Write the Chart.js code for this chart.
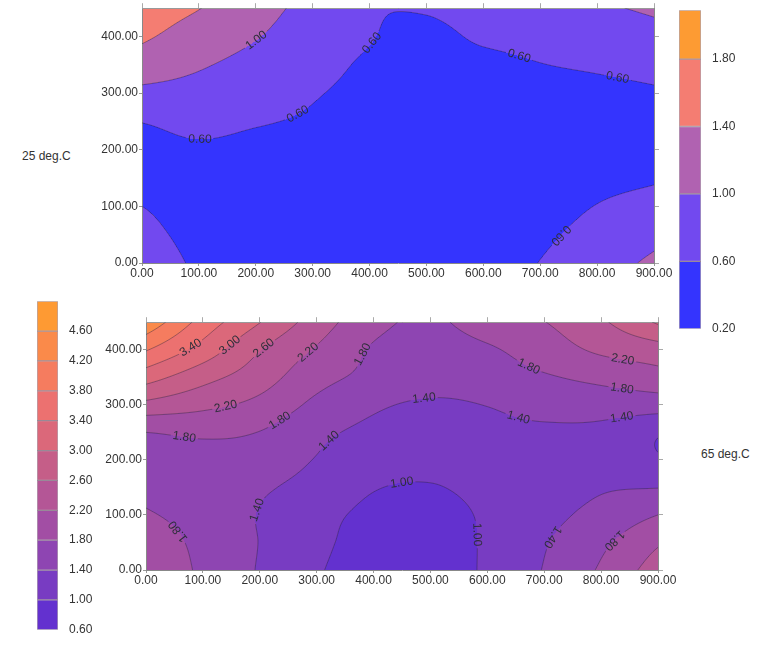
<!DOCTYPE html>
<html>
<head>
<meta charset="utf-8">
<script src="https://cdn.jsdelivr.net/npm/chart.js@4.4.1/dist/chart.umd.min.js"></script>
<style>
  body { margin: 0; width: 768px; height: 660px; position: relative; overflow: hidden; background: #fff;
         font-family: "Liberation Sans", Arial, sans-serif; }
  canvas { position: absolute; }
  .lab { position: absolute; font-size: 12px; line-height: 14px; color: #333; white-space: nowrap; }
</style>
</head>
<body>
<div class="lab" style="left:22px;top:149px">25 deg.C</div>
<div class="lab" style="left:701px;top:447px">65 deg.C</div>
<canvas id="top" width="598" height="287" style="left:82px;top:0px"></canvas>
<canvas id="bottom" width="598" height="280" style="left:86px;top:314px"></canvas>
<canvas id="barTop" width="62" height="339" style="left:679px;top:0px"></canvas>
<canvas id="barBottom" width="61" height="349" style="left:37px;top:291px"></canvas>
<script>
// grid nodes (same for both plots)
var X_VALUES = [0, 100, 200, 300, 400, 500, 600, 700, 800, 900];
var Y_VALUES = [0, 50, 100, 150, 200, 250, 300, 350, 400, 450];
var AXIS_X_TICKS = [0, 100, 200, 300, 400, 500, 600, 700, 800, 900];
var AXIS_Y_TICKS = [0, 100, 200, 300, 400];

// 25 deg.C  (rows = Y_VALUES, cols = X_VALUES)
var TOP_GRID = [
  [0.80, 0.55, 0.42, 0.36, 0.32, 0.32, 0.40, 0.61, 0.83, 1.07],
  [0.70, 0.50, 0.40, 0.35, 0.30, 0.28, 0.35, 0.53, 0.72, 0.90],
  [0.60, 0.45, 0.38, 0.33, 0.30, 0.28, 0.30, 0.45, 0.61, 0.72],
  [0.45, 0.40, 0.38, 0.35, 0.32, 0.30, 0.32, 0.38, 0.50, 0.57],
  [0.50, 0.55, 0.50, 0.45, 0.38, 0.33, 0.33, 0.36, 0.42, 0.50],
  [0.61, 0.69, 0.63, 0.55, 0.42, 0.38, 0.37, 0.38, 0.42, 0.48],
  [0.91, 0.87, 0.78, 0.63, 0.50, 0.42, 0.42, 0.45, 0.50, 0.56],
  [1.21, 1.04, 0.88, 0.72, 0.55, 0.45, 0.50, 0.59, 0.65, 0.72],
  [1.45, 1.24, 1.02, 0.82, 0.62, 0.50, 0.66, 0.72, 0.80, 0.89],
  [1.55, 1.41, 1.13, 0.89, 0.635, 0.635, 0.80, 0.84, 0.95, 1.05]
];
var TOP_EDGES = [0.2, 0.6, 1.0, 1.4, 1.8, 2.09];
var TOP_TICKS = [0.2, 0.6, 1.0, 1.4, 1.8];
var TOP_COLORS = ['#3434fe', '#7249ef', '#b062b1', '#f47d72', '#fd9b33'];
// contour labels: level, x, y, upside down
var TOP_LABELS = [
  [1.0, 201, 393, 0], [0.6, 102, 224, 0], [0.6, 271, 268, 0], [0.6, 405, 388, 0],
  [0.6, 663, 366, 0], [0.6, 835, 323, 0], [0.6, 733, 52, 1]
];

// 65 deg.C
var BOTTOM_GRID = [
  [2.05, 1.74, 1.37, 1.04, 0.80, 0.78, 1.06, 1.42, 1.85, 2.40],
  [1.95, 1.72, 1.39, 1.09, 0.85, 0.82, 1.05, 1.37, 1.72, 2.15],
  [1.83, 1.68, 1.38, 1.12, 0.92, 0.88, 1.05, 1.28, 1.53, 1.80],
  [1.72, 1.62, 1.46, 1.25, 1.02, 0.98, 1.10, 1.20, 1.36, 1.39],
  [1.67, 1.70, 1.64, 1.38, 1.17, 1.11, 1.20, 1.25, 1.25, 1.04],
  [1.80, 1.86, 1.79, 1.49, 1.31, 1.23, 1.30, 1.33, 1.30, 1.04],
  [2.49, 2.30, 2.09, 1.71, 1.46, 1.35, 1.41, 1.54, 1.58, 1.59],
  [3.17, 2.74, 2.38, 1.94, 1.70, 1.56, 1.62, 1.76, 1.90, 2.05],
  [3.83, 3.24, 2.62, 2.16, 1.76, 1.64, 1.75, 2.00, 2.27, 2.43],
  [4.50, 3.65, 3.01, 2.41, 1.92, 1.74, 2.00, 2.19, 2.54, 3.05]
];
var BOTTOM_EDGES = [0.6, 1.0, 1.4, 1.8, 2.2, 2.6, 3.0, 3.4, 3.8, 4.2, 4.6, 5.0];
var BOTTOM_TICKS = [0.6, 1.0, 1.4, 1.8, 2.2, 2.6, 3.0, 3.4, 3.8, 4.2, 4.6];
var BOTTOM_COLORS = ['#6331cf', '#783cc2', '#8e45b2', '#a24ea4', '#b45696', '#c55e88',
                     '#db687a', '#ec7170', '#f57c5f', '#fa8a4a', '#fe9a33'];
var BOTTOM_LABELS = [
  [3.4, 79, 403, 0], [3.0, 146, 410, 0], [2.6, 207, 403, 0], [2.2, 286, 394, 0], [1.8, 377, 394, 0],
  [2.2, 140, 297, 0], [1.8, 233, 275, 0], [1.8, 67, 240, 0], [1.4, 325, 231, 0],
  [1.4, 198, 108, 0], [1.8, 49, 64, 1], [1.0, 450, 155, 0], [1.0, 576, 64, 0],
  [1.4, 488, 318, 0], [1.8, 675, 374, 0], [1.4, 655, 278, 0], [2.2, 837, 376, 0],
  [1.8, 837, 331, 0], [1.4, 837, 274, 0], [1.4, 716, 59, 1], [1.8, 825, 52, 1]
];

Chart.defaults.font.family = '"Liberation Sans", Arial, sans-serif';
Chart.defaults.font.size = 12;
Chart.defaults.color = '#333';

// catmull-rom between the grid nodes
function cr(p0, p1, p2, p3, t) {
  return 0.5 * (2 * p1 + (-p0 + p2) * t + (2 * p0 - 5 * p1 + 4 * p2 - p3) * t * t +
    (-p0 + 3 * p1 - 3 * p2 + p3) * t * t * t);
}
function node(g, j, i) {
  var nr = g.length, nc = g[0].length;
  if (i < 0) return 2 * node(g, j, 0) - node(g, j, 1);
  if (i >= nc) return 2 * node(g, j, nc - 1) - node(g, j, nc - 2);
  if (j < 0) return 2 * node(g, 0, i) - node(g, 1, i);
  if (j >= nr) return 2 * node(g, nr - 1, i) - node(g, nr - 2, i);
  return g[j][i];
}
function field(g, x, y) {
  var u = (x - X_VALUES[0]) / (X_VALUES[1] - X_VALUES[0]);
  var v = (y - Y_VALUES[0]) / (Y_VALUES[1] - Y_VALUES[0]);
  var i = Math.min(Math.max(Math.floor(u), 0), X_VALUES.length - 2);
  var j = Math.min(Math.max(Math.floor(v), 0), Y_VALUES.length - 2);
  var tx = u - i, ty = v - j, rows = [];
  for (var k = -1; k <= 2; k++) {
    rows.push(cr(node(g, j + k, i - 1), node(g, j + k, i), node(g, j + k, i + 1), node(g, j + k, i + 2), tx));
  }
  return cr(rows[0], rows[1], rows[2], rows[3], ty);
}
function band(edges, v) {
  var b = 0;
  while (b < edges.length - 2 && v >= edges[b + 1]) b++;
  return b;
}
function hexToRgb(h) {
  return [parseInt(h.substr(1, 2), 16), parseInt(h.substr(3, 2), 16), parseInt(h.substr(5, 2), 16)];
}

function makeContour(grid, edges, colors, labels) {
  var vals, w, h, x0, y0, r;
  return {
    id: 'contour',
    // filled bands, painted before the axes
    beforeDraw: function(chart) {
      var ctx = chart.ctx, a = chart.chartArea, xs = chart.scales.x, ys = chart.scales.y;
      r = chart.currentDevicePixelRatio || 1;
      x0 = Math.round(a.left * r); y0 = Math.round(a.top * r);
      w = Math.round(a.right * r) - x0; h = Math.round(a.bottom * r) - y0;
      vals = new Float64Array((w + 1) * (h + 1));
      var dxs = [], i, j;
      for (i = 0; i <= w; i++) dxs.push(xs.getValueForPixel((x0 + i) / r));
      for (j = 0; j <= h; j++) {
        var dy = ys.getValueForPixel((y0 + j) / r);
        for (i = 0; i <= w; i++) vals[j * (w + 1) + i] = field(grid, dxs[i], dy);
      }
      var rgb = colors.map(hexToRgb);
      var img = ctx.createImageData(w, h);
      for (j = 0; j < h; j++) {
        for (i = 0; i < w; i++) {
          var n = j * (w + 1) + i;
          var v = (vals[n] + vals[n + 1] + vals[n + w + 1] + vals[n + w + 2]) / 4;
          var c = rgb[band(edges, v)], k = (j * w + i) * 4;
          img.data[k] = c[0]; img.data[k + 1] = c[1]; img.data[k + 2] = c[2]; img.data[k + 3] = 255;
        }
      }
      ctx.putImageData(img, x0, y0);
    },
    // contour lines and their labels
    afterDatasetsDraw: function(chart) {
      var ctx = chart.ctx, a = chart.chartArea, xs = chart.scales.x, ys = chart.scales.y;
      function F(px, py) { return field(grid, xs.getValueForPixel(px), ys.getValueForPixel(py)); }
      ctx.save();
      ctx.font = '12px "Liberation Sans", Arial, sans-serif';
      var boxes = labels.map(function(l) {
        var px = xs.getPixelForValue(l[1]), py = ys.getPixelForValue(l[2]), gx = 0, gy = 0;
        for (var it = 0; it < 10; it++) {
          var f = F(px, py) - l[0];
          gx = (F(px + 1, py) - F(px - 1, py)) / 2;
          gy = (F(px, py + 1) - F(px, py - 1)) / 2;
          var g2 = gx * gx + gy * gy;
          if (g2 < 1e-12) break;
          var sx = -f * gx / g2, sy = -f * gy / g2, d = Math.sqrt(sx * sx + sy * sy);
          if (d > 6) { sx *= 6 / d; sy *= 6 / d; }
          px += sx; py += sy;
          if (Math.abs(f) < 1e-5) break;
        }
        var ang = Math.atan2(-gx, gy);
        if (ang > Math.PI / 2) ang -= Math.PI;
        if (ang <= -Math.PI / 2) ang += Math.PI;
        if (l[3]) ang += Math.PI;
        var text = l[0].toFixed(2);
        return { x: px, y: py, ang: ang, text: text, hw: ctx.measureText(text).width / 2 + 2, hh: 6 };
      });
      ctx.beginPath();
      ctx.rect(a.left, a.top, a.right - a.left, a.bottom - a.top);
      boxes.forEach(function(b) {
        var c = Math.cos(b.ang), s = Math.sin(b.ang);
        var pts = [[-b.hw, -b.hh], [b.hw, -b.hh], [b.hw, b.hh], [-b.hw, b.hh]];
        pts.forEach(function(p, k) {
          var X = b.x + p[0] * c - p[1] * s, Y = b.y + p[0] * s + p[1] * c;
          if (k === 0) ctx.moveTo(X, Y); else ctx.lineTo(X, Y);
        });
        ctx.closePath();
      });
      ctx.clip('evenodd');
      ctx.beginPath();
      var W = w + 1;
      edges.slice(1, -1).forEach(function(L) {
        for (var j = 0; j < h; j++) {
          for (var i = 0; i < w; i++) {
            var v0 = vals[j * W + i], v1 = vals[j * W + i + 1], v2 = vals[(j + 1) * W + i + 1], v3 = vals[(j + 1) * W + i];
            var p = [];
            if ((v0 < L) !== (v1 < L)) p.push([i + (L - v0) / (v1 - v0), j]);
            if ((v1 < L) !== (v2 < L)) p.push([i + 1, j + (L - v1) / (v2 - v1)]);
            if ((v3 < L) !== (v2 < L)) p.push([i + (L - v3) / (v2 - v3), j + 1]);
            if ((v0 < L) !== (v3 < L)) p.push([i, j + (L - v0) / (v3 - v0)]);
            for (var k = 0; k + 1 < p.length; k += 2) {
              ctx.moveTo((x0 + p[k][0]) / r, (y0 + p[k][1]) / r);
              ctx.lineTo((x0 + p[k + 1][0]) / r, (y0 + p[k + 1][1]) / r);
            }
          }
        }
      });
      ctx.strokeStyle = 'rgba(45,35,60,0.6)';
      ctx.lineWidth = 0.7;
      ctx.stroke();
      ctx.restore();

      ctx.save();
      ctx.font = '12px "Liberation Sans", Arial, sans-serif';
      ctx.fillStyle = '#2e2e3a';
      ctx.textAlign = 'center';
      ctx.textBaseline = 'middle';
      boxes.forEach(function(b) {
        ctx.save();
        ctx.translate(b.x, b.y);
        ctx.rotate(b.ang);
        ctx.fillText(b.text, 0, 0);
        ctx.restore();
      });
      ctx.restore();
    }
  };
}

function fixTicks(list) {
  return function(scale) { scale.ticks = list.map(function(v) { return { value: v }; }); };
}
function fmt(v) { return Number(v).toFixed(2); }

function contourChart(id, grid, edges, colors, labels) {
  var frame = { drawOnChartArea: false, tickLength: 5, color: '#aaa' };
  return new Chart(document.getElementById(id), {
    type: 'scatter',
    data: { datasets: [] },
    options: {
      responsive: false,
      animation: false,
      events: [],
      layout: { padding: { left: 0, top: 0, right: 20, bottom: 2 } },
      plugins: { legend: { display: false }, tooltip: { enabled: false } },
      scales: {
        x: {
          type: 'linear', position: 'bottom', min: 0, max: 900,
          afterBuildTicks: fixTicks(AXIS_X_TICKS),
          ticks: { callback: fmt, maxRotation: 0, padding: 0, autoSkip: false },
          grid: { drawOnChartArea: false, tickLength: 3, color: '#999' },
          border: { color: '#888' },
          afterFit: function(s) { s.height = 22; }
        },
        y: {
          type: 'linear', position: 'left', min: 0, max: 450,
          afterBuildTicks: fixTicks(AXIS_Y_TICKS),
          ticks: { callback: fmt, padding: 1 },
          grid: { drawOnChartArea: false, tickLength: 3, color: '#999' },
          border: { color: '#888' },
          afterFit: function(s) { s.width = 60; }
        },
        x2: {
          type: 'linear', position: 'top', min: 0, max: 900,
          afterBuildTicks: fixTicks(AXIS_X_TICKS),
          ticks: { display: false },
          grid: frame, border: { color: '#999' },
          afterFit: function(s) { s.height = 6; }
        },
        y2: {
          type: 'linear', position: 'right', min: 0, max: 450,
          afterBuildTicks: fixTicks(AXIS_Y_TICKS),
          ticks: { display: false },
          grid: frame, border: { color: '#888' },
          afterFit: function(s) { s.width = 6; }
        }
      }
    },
    plugins: [makeContour(grid, edges, colors, labels)]
  });
}

function colorBar(id, edges, ticks, colors) {
  var sets = colors.map(function(c, k) {
    return {
      data: [[edges[k], edges[k + 1]]],
      backgroundColor: c,
      borderColor: 'rgba(80,55,80,0.45)',
      borderWidth: 1,
      borderSkipped: false,
      grouped: false,
      barPercentage: 1,
      categoryPercentage: 1
    };
  });
  return new Chart(document.getElementById(id), {
    type: 'bar',
    data: { labels: [''], datasets: sets },
    options: {
      responsive: false,
      animation: false,
      events: [],
      layout: { padding: { left: 0, top: 6, right: 0, bottom: 10 } },
      plugins: { legend: { display: false }, tooltip: { enabled: false } },
      scales: {
        x: { display: false },
        y: {
          position: 'right', min: edges[0], max: edges[edges.length - 1],
          afterBuildTicks: fixTicks(ticks),
          ticks: { callback: fmt, padding: 3 },
          grid: { display: false },
          border: { display: false },
          afterFit: function(s) { s.width = 40; }
        }
      }
    }
  });
}

contourChart('top', TOP_GRID, TOP_EDGES, TOP_COLORS, TOP_LABELS);
contourChart('bottom', BOTTOM_GRID, BOTTOM_EDGES, BOTTOM_COLORS, BOTTOM_LABELS);
colorBar('barTop', TOP_EDGES, TOP_TICKS, TOP_COLORS);
colorBar('barBottom', BOTTOM_EDGES, BOTTOM_TICKS, BOTTOM_COLORS);
</script>
</body>
</html>
